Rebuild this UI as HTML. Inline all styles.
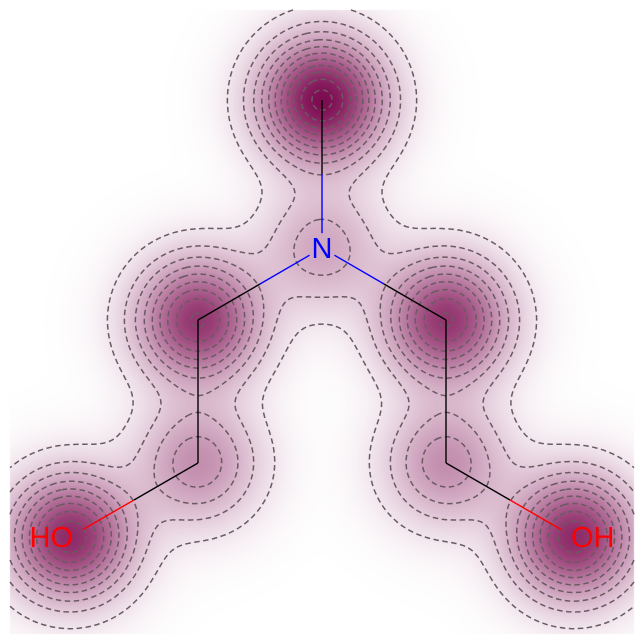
<!DOCTYPE html>
<html><head><meta charset="utf-8"><style>
html,body{margin:0;padding:0;background:#fff;}
#wrap{position:relative;width:644px;height:644px;}
canvas,svg{position:absolute;left:0;top:0;}
</style></head><body>
<div id="wrap">
<canvas id="cv" width="644" height="644"></canvas>
<svg id="sv" width="644" height="644"></svg>
</div>
<script>
const atomLabels = ["C","N","C","C","O","C","C","O"];
const atomX = [322,322,198,198,70,446,446,574];
const atomY = [100,248,320,463,537,320,463,537];
const atomWeights = [1.0,0.3,0.8,0.4,0.85,0.8,0.4,0.85];
const bonds = [[0,1],[1,2],[2,3],[3,4],[1,5],[5,6],[6,7]];
const contourLevels = [0.07,0.16,0.25,0.34,0.43,0.52,0.61,0.7,0.79,0.88,0.97];

const SIG = 41, X0 = 10, X1 = 634, Y0 = 10, Y1 = 634;
function field(x,y){let s=0;for(let i=0;i<atomX.length;i++){const dx=x-atomX[i],dy=y-atomY[i];s+=atomWeights[i]*Math.exp(-(dx*dx+dy*dy)/(2*SIG*SIG));}return s;}
const cv=document.getElementById('cv'),ctx=cv.getContext('2d');
const img=ctx.createImageData(644,644);
for(let y=0;y<644;y++)for(let x=0;x<644;x++){
  const k=(y*644+x)*4;let r=255,g=255,b=255;
  if(x>=X0&&x<X1&&y>=Y0&&y<Y1){let v=Math.min(1,Math.pow(field(x,y),0.85));r=255+(125-255)*v;g=255+(12-255)*v;b=255+(82-255)*v;}
  img.data[k]=r;img.data[k+1]=g;img.data[k+2]=b;img.data[k+3]=255;}
ctx.putImageData(img,0,0);
const NS='http://www.w3.org/2000/svg',sv=document.getElementById('sv');
const st=3,nx=Math.floor((X1-X0)/st),ny=Math.floor((Y1-Y0)/st);
const F=[];for(let j=0;j<=ny;j++){F[j]=[];for(let i=0;i<=nx;i++)F[j][i]=field(X0+i*st,Y0+j*st);}
contourLevels.forEach(L=>{
  const pos={},adj={};
  function link(a,b){(adj[a]=adj[a]||[]).push(b);(adj[b]=adj[b]||[]).push(a);}
  for(let j=0;j<ny;j++)for(let i=0;i<nx;i++){
    const a=F[j][i],b=F[j][i+1],c=F[j+1][i+1],d=F[j+1][i];
    const px=X0+i*st,py=Y0+j*st,pts=[];
    if((a<L)!==(b<L)){const k='h'+i+'_'+j;pos[k]=[px+st*(L-a)/(b-a),py];pts.push(k);}
    if((b<L)!==(c<L)){const k='v'+(i+1)+'_'+j;pos[k]=[px+st,py+st*(L-b)/(c-b)];pts.push(k);}
    if((d<L)!==(c<L)){const k='h'+i+'_'+(j+1);pos[k]=[px+st*(L-d)/(c-d),py+st];pts.push(k);}
    if((a<L)!==(d<L)){const k='v'+i+'_'+j;pos[k]=[px,py+st*(L-a)/(d-a)];pts.push(k);}
    if(pts.length>=2)link(pts[0],pts[1]);
    if(pts.length===4)link(pts[2],pts[3]);
  }
  const used={};let d='';
  const keys=Object.keys(adj);
  const order=keys.filter(k=>adj[k].length===1).concat(keys);
  order.forEach(s=>{
    if(used[s])return;
    let cur=s,prev=null;used[cur]=1;
    d+='M'+pos[cur][0].toFixed(1)+' '+pos[cur][1].toFixed(1);
    while(true){
      const nxt=(adj[cur]||[]).find(n=>n!==prev&&!used[n]);
      if(!nxt){ if(adj[cur].includes(s)&&cur!==s&&prev!==s) d+='Z'; break;}
      used[nxt]=1;prev=cur;cur=nxt;
      d+='L'+pos[cur][0].toFixed(1)+' '+pos[cur][1].toFixed(1);
    }
  });
  const p=document.createElementNS(NS,'path');
  
  
  p.setAttribute('d',d);
  p.setAttribute('stroke','#6a5a62');p.setAttribute('stroke-width','1.5');p.setAttribute('fill','none');
  p.setAttribute('stroke-dasharray','5.5 3.5');
  sv.appendChild(p);
});
const col={C:'#000',N:'#0000ff',O:'#ff0000'};
function line(x1,y1,x2,y2,c){const l=document.createElementNS(NS,'line');


l.setAttribute('x1',x1);l.setAttribute('y1',y1);l.setAttribute('x2',x2);l.setAttribute('y2',y2);l.setAttribute('stroke',c);l.setAttribute('stroke-width','1.4');sv.appendChild(l);}
function shrink(i,j,t){return [atomX[i]+(atomX[j]-atomX[i])*t,atomY[i]+(atomY[j]-atomY[i])*t];}
bonds.forEach(([i,j])=>{
  let a=[atomX[i],atomY[i]],b=[atomX[j],atomY[j]];
  if(atomLabels[i]!=='C')a=shrink(i,j,0.1);
  if(atomLabels[j]!=='C')b=shrink(j,i,0.1);
  const m=[(atomX[i]+atomX[j])/2,(atomY[i]+atomY[j])/2];
  line(a[0],a[1],m[0],m[1],col[atomLabels[i]]);line(m[0],m[1],b[0],b[1],col[atomLabels[j]]);
});
atomLabels.forEach((l,i)=>{if(l==='C')return;
  const t=document.createElementNS(NS,'text');
  
  
  let txt=l,anchor='middle',x=atomX[i];
  if(l==='O'){txt=atomX[i]<322?'HO':'OH';anchor=atomX[i]<322?'end':'start';x=atomX[i]<322?atomX[i]+3:atomX[i]-3;}
  t.setAttribute('x',x);t.setAttribute('y',atomY[i]+10);t.setAttribute('text-anchor',anchor);
  t.setAttribute('font-family','Liberation Sans, sans-serif');t.setAttribute('font-size','29');t.setAttribute('fill',col[l]);
  t.textContent=txt;sv.appendChild(t);});
</script>
</body></html>
